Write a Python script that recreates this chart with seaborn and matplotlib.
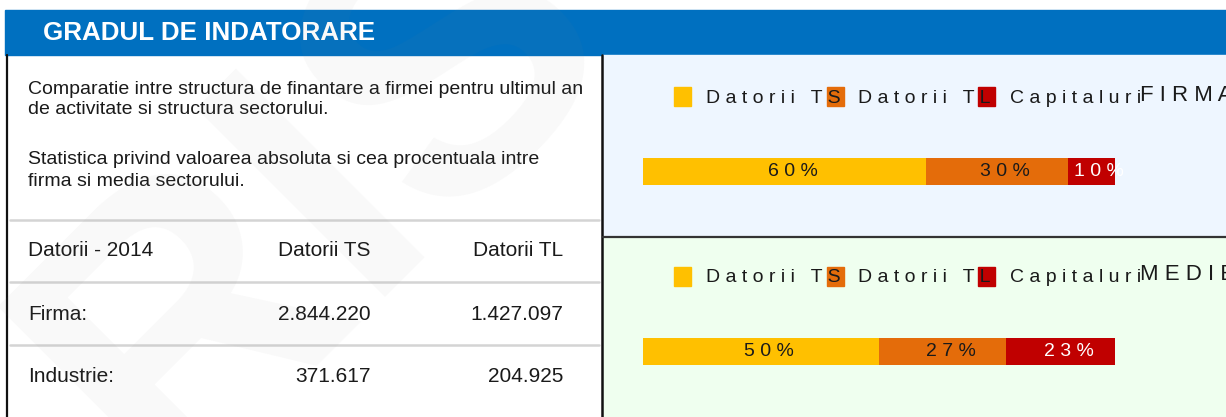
import matplotlib
matplotlib.use("Agg")
import matplotlib.pyplot as plt
import matplotlib.transforms as mtransforms
from matplotlib.patches import Rectangle
import seaborn as sns

# === Date ===
titlu = "GRADUL DE INDATORARE"
descriere = [
    "Comparatie intre structura de finantare a firmei pentru ultimul an",
    "de activitate si structura sectorului.",
    "Statistica privind valoarea absoluta si cea procentuala intre",
    "firma si media sectorului.",
]

coloane_tabel = ["Datorii - 2014", "Datorii TS", "Datorii TL"]
randuri_tabel = ["Firma:", "Industrie:"]
datorii_ts = ["2.844.220", "371.617"]
datorii_tl = ["1.427.097", "204.925"]

categorii = ["Datorii TS", "Datorii TL", "Capitaluri"]
culori = ["#FFC000", "#E46C0A", "#C00000"]
culori_text = ["#1a1a1a", "#1a1a1a", "white"]
grafice = ["FIRMA", "MEDIE"]
procente_firma = [60, 30, 10]
procente_medie = [50, 27, 23]

W, H = 1226, 417

sns.set_theme(style="white")
plt.rcParams["font.family"] = ["Liberation Sans", "DejaVu Sans"]


def rar(s):
    # text cu spatiere intre litere
    return " ".join(s)


fig = plt.figure(figsize=(W / 100, H / 100), dpi=100)
fig.patch.set_facecolor("white")

# === Fundal (coordonate in pixeli) ===
bg = fig.add_axes([0, 0, 1, 1])
bg.set_xlim(0, W)
bg.set_ylim(H, 0)
bg.axis("off")

bg.add_patch(Rectangle((5, 10), W - 5, 45, color="#0070C0", zorder=1))
bg.add_patch(Rectangle((603, 55), W - 603, 182, color="#EEF6FF", zorder=1))
bg.add_patch(Rectangle((603, 237), W - 603, H - 237, color="#EFFFEF", zorder=1))
bg.plot([7, 7], [55, H], color="#111111", lw=1.6, zorder=3)
bg.plot([602, 602], [55, H], color="#111111", lw=1.8, zorder=3)
bg.plot([603, W], [237, 237], color="#333333", lw=1.6, zorder=3)
for y in [220, 282, 345]:
    bg.plot([10, 599], [y, y], color="#D4D4D4", lw=1.8, zorder=2)

bg.text(43, 33, titlu, color="white", fontsize=18.7, fontweight="bold",
        va="center", ha="left", zorder=4)
for linie, y in zip(descriere, [89, 109, 159, 181]):
    bg.text(28, y, linie, fontsize=14, va="center", ha="left",
            color="#1a1a1a", zorder=4)

# === Tabel ===
y_rand = [251, 314, 377]
bg.text(28, y_rand[0], coloane_tabel[0], fontsize=15, va="center", color="#1a1a1a", zorder=4)
bg.text(371, y_rand[0], coloane_tabel[1], fontsize=15, va="center", ha="right", color="#1a1a1a", zorder=4)
bg.text(563, y_rand[0], coloane_tabel[2], fontsize=15, va="center", ha="right", color="#1a1a1a", zorder=4)
for i, nume in enumerate(randuri_tabel):
    y = y_rand[i + 1]
    bg.text(28, y, nume, fontsize=15, va="center", color="#1a1a1a", zorder=4)
    bg.text(371, y, datorii_ts[i], fontsize=15, va="center", ha="right", color="#1a1a1a", zorder=4)
    bg.text(563, y, datorii_tl[i], fontsize=15, va="center", ha="right", color="#1a1a1a", zorder=4)

# === Watermark ===
bg.text(320, 195, "RIS", fontsize=280, fontweight="bold", color="#8a8a8a",
        alpha=0.05, rotation=45, ha="center", va="center", zorder=5)

# === Grafice cu bare stivuite ===
for titlu_grafic, procente, y0 in [(grafice[0], procente_firma, 0),
                                    (grafice[1], procente_medie, 180)]:
    # legenda
    x_patrat = [674, 827, 978]
    x_text = [706, 858, 1010]
    for cat, col, xp, xt in zip(categorii, culori, x_patrat, x_text):
        bg.text(xt, 98 + y0, rar(cat), fontsize=14, va="center", ha="left",
                color="#1a1a1a", zorder=4)
        bg.add_patch(Rectangle((xp, 87 + y0), 17, 19, color=col, zorder=3))
    bg.text(1140, 95 + y0, rar(titlu_grafic), fontsize=16, va="center",
            ha="left", color="#1a1a1a", zorder=4)

    ax = fig.add_axes([643 / W, 1 - (185 + y0) / H, 472 / W, 27 / H])
    cumul = []
    s = 0
    for v in procente:
        s += v
        cumul.append(s)
    for c, col in reversed(list(zip(cumul, culori))):
        sns.barplot(x=[c], y=[titlu_grafic], color=col, width=1,
                    saturation=1, orient="h", linewidth=0, ax=ax)
    ax.set_xlim(0, 100)
    ax.set_ylim(0.5, -0.5)
    ax.axis("off")
    ax.patch.set_alpha(0)
    off = mtransforms.offset_copy(ax.transData, fig=fig, x=8, y=0, units="dots")
    for v, c, tc in zip(procente, cumul, culori_text):
        ax.text(c - v / 2, 0, rar(f"{v}%"), transform=off, ha="center",
                va="center", fontsize=14, color=tc, clip_on=False, zorder=5)

fig.savefig("out.png", dpi=100)
